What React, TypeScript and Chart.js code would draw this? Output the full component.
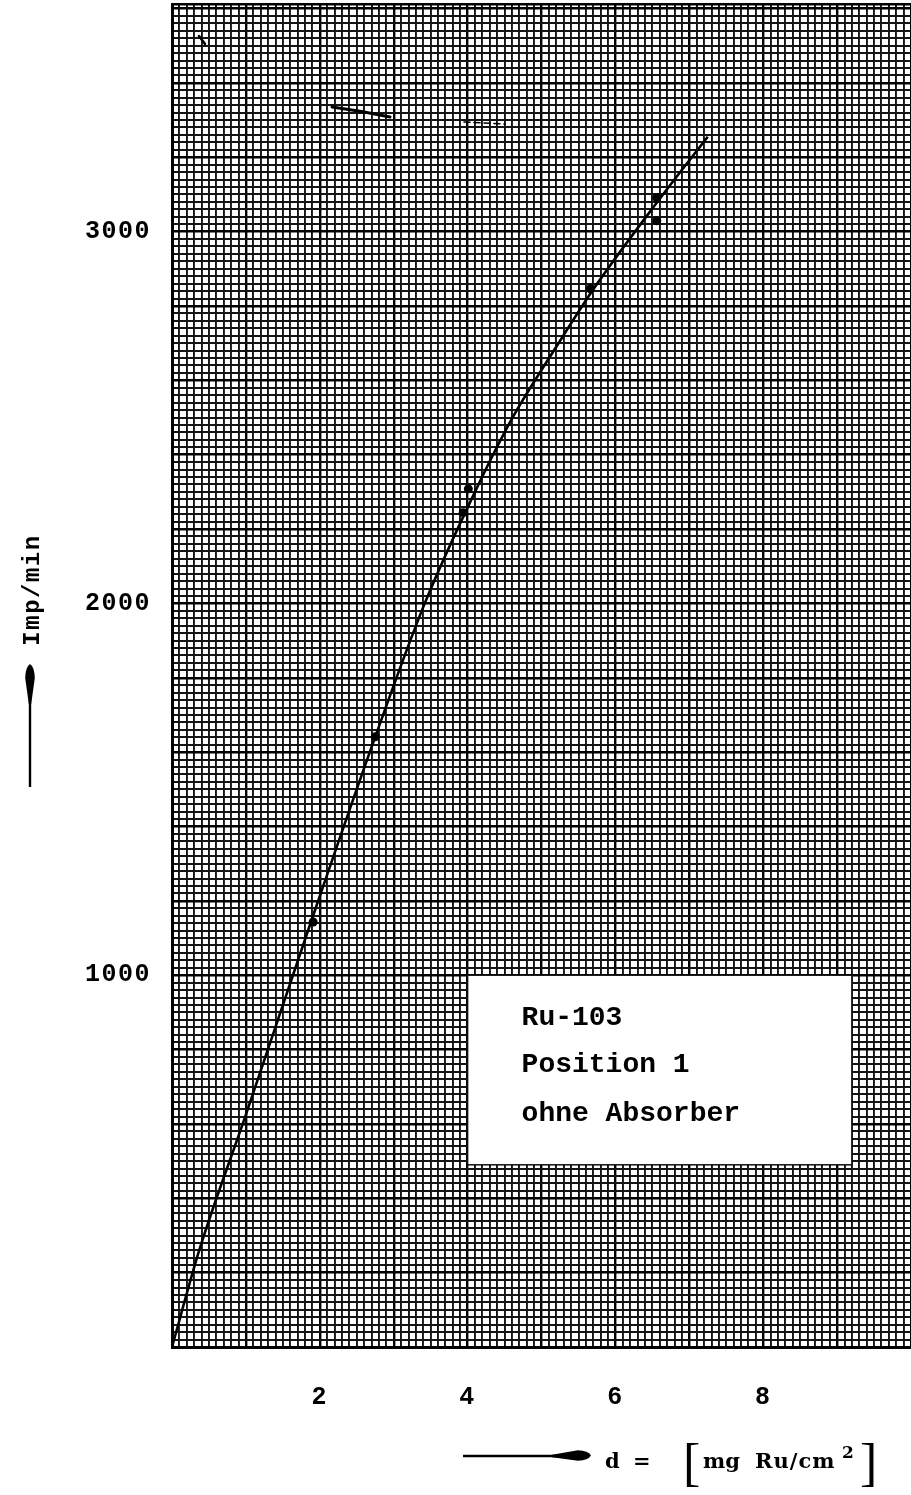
import { useEffect, useRef } from "react";
import { Chart, registerables } from "chart.js";

Chart.register(...registerables);

// Measured count rates (Imp/min) against layer thickness d (mg Ru/cm²)
const measuredD = [1.91, 2.75, 3.94, 4.01, 5.66, 6.56, 6.56];
const measuredRate = [1143, 1641, 2244, 2308, 2846, 3091, 3029];

// Hand-drawn fitted curve through the measurements
const curveD = [0, 0.37, 1.0, 1.88, 2.75, 3.42, 4.1, 4.61, 5.2, 5.72, 6.6, 7.25];
const curveRate = [0, 261, 625, 1143, 1641, 2000, 2300, 2500, 2690, 2850, 3088, 3255];

// Labelled ticks
const xTickLabels = [2, 4, 6, 8];
const yTickLabels = [1000, 2000, 3000];

// Text of the pasted-on label
const noteLines = ["Ru-103", "Position 1", "ohne Absorber"];
const yTitle = "Imp/min";

// Graph-paper ranges and ruling
const X_MIN = 0;
const X_MAX = 10;
const X_MINOR = 0.1;
const X_MAJOR = 1;
const Y_MIN = 0;
const Y_MAX = 3612;
const Y_MINOR = 20;
const Y_MAJOR = 200;

// Corners of the white label (data units)
const NOTE_X = [4.0, 9.2];
const NOTE_Y = [490, 1000];

const MONO = '"Liberation Mono", "DejaVu Sans Mono", monospace';
const SERIF = '"DejaVu Serif", "Liberation Serif", serif';

const xGrid: number[] = [];
for (let i = 0; i <= Math.round((X_MAX - X_MIN) / X_MINOR); i++) {
  xGrid.push(Math.round((X_MIN + i * X_MINOR) * 1000) / 1000);
}
const yGrid: number[] = [];
for (let v = Y_MIN; v <= Y_MAX; v += Y_MINOR) yGrid.push(v);
if (yGrid[yGrid.length - 1] !== Y_MAX) yGrid.push(Y_MAX);

const isMajorX = (v: number) => {
  const q = v / X_MAJOR;
  return Math.abs(q - Math.round(q)) < 1e-6;
};
const isMajorY = (v: number) => v % Y_MAJOR === 0 || v === Y_MAX;

function text(
  ctx: CanvasRenderingContext2D,
  s: string,
  x: number,
  y: number,
  font: string,
  align: CanvasTextAlign = "left",
  baseline: CanvasTextBaseline = "alphabetic",
  spacing = 0
) {
  ctx.save();
  (ctx as any).letterSpacing = `${spacing}px`;
  ctx.font = font;
  ctx.textAlign = align;
  ctx.textBaseline = baseline;
  ctx.fillStyle = "#000";
  ctx.fillText(s, x, y);
  ctx.restore();
}

// Typewriter spacing for the tick labels
const spacingPlugin = {
  id: "typewriterSpacing",
  beforeDraw(chart: any) {
    chart.ctx.letterSpacing = "1.5px";
  },
  afterDraw(chart: any) {
    chart.ctx.letterSpacing = "0px";
  },
};

// White label pasted over the ruling, plus a few stray pen strokes on the sheet
const notePlugin = {
  id: "note",
  beforeDatasetsDraw(chart: any) {
    const { ctx, scales, chartArea } = chart;
    const x0 = scales.x.getPixelForValue(NOTE_X[0]);
    const x1 = scales.x.getPixelForValue(NOTE_X[1]);
    const y0 = scales.y.getPixelForValue(NOTE_Y[1]);
    const y1 = scales.y.getPixelForValue(NOTE_Y[0]);
    ctx.save();
    ctx.fillStyle = "#fff";
    ctx.fillRect(x0, y0, x1 - x0, y1 - y0);
    ctx.strokeStyle = "#111";
    ctx.lineWidth = 1.5;
    ctx.strokeRect(x0, y0, x1 - x0, y1 - y0);

    // pen strokes near the top of the sheet
    const L = chartArea.left;
    const T = chartArea.top;
    ctx.strokeStyle = "#000";
    ctx.lineCap = "round";
    ctx.lineWidth = 2.6;
    ctx.beginPath();
    ctx.moveTo(L + 27, T + 32);
    ctx.lineTo(L + 33, T + 40);
    ctx.stroke();
    ctx.lineWidth = 3;
    ctx.beginPath();
    ctx.moveTo(L + 160, T + 103);
    ctx.quadraticCurveTo(L + 190, T + 107, L + 218, T + 113);
    ctx.stroke();
    ctx.lineWidth = 1.6;
    ctx.setLineDash([6, 4]);
    ctx.beginPath();
    ctx.moveTo(L + 292, T + 118);
    ctx.lineTo(L + 333, T + 120);
    ctx.stroke();
    ctx.restore();

    const font = `bold 28px ${MONO}`;
    const baselines = [50, 97, 146];
    noteLines.forEach((s, i) => text(ctx, s, x0 + 54, y0 + baselines[i], font));
  },
};

// Axis titles with hand-drawn arrows
const titlesPlugin = {
  id: "titles",
  afterDraw(chart: any) {
    const ctx: CanvasRenderingContext2D = chart.ctx;
    (ctx as any).letterSpacing = "0px";

    // vertical title
    ctx.save();
    ctx.translate(33, 590);
    ctx.rotate(-Math.PI / 2);
    text(ctx, yTitle, 0, 0, `bold 24px ${MONO}`, "center", "middle", 1.5);
    ctx.restore();

    ctx.save();
    ctx.fillStyle = "#000";
    ctx.strokeStyle = "#000";
    // upward arrow
    ctx.lineWidth = 2.4;
    ctx.beginPath();
    ctx.moveTo(30, 787);
    ctx.lineTo(30, 695);
    ctx.stroke();
    ctx.beginPath();
    ctx.moveTo(30, 664);
    ctx.quadraticCurveTo(34.5, 667, 34.8, 678);
    ctx.lineTo(31.2, 704);
    ctx.lineTo(28.8, 704);
    ctx.lineTo(25.2, 678);
    ctx.quadraticCurveTo(25.5, 667, 30, 664);
    ctx.fill();

    // rightward arrow
    ctx.beginPath();
    ctx.moveTo(463, 1456);
    ctx.lineTo(560, 1456);
    ctx.stroke();
    ctx.beginPath();
    ctx.moveTo(591, 1455.5);
    ctx.quadraticCurveTo(588, 1460.5, 578, 1460.8);
    ctx.lineTo(552, 1457.2);
    ctx.lineTo(552, 1454.8);
    ctx.lineTo(578, 1450.2);
    ctx.quadraticCurveTo(588, 1450.5, 591, 1455.5);
    ctx.fill();
    ctx.restore();

    // unit label
    const f = `bold 21px ${SERIF}`;
    text(ctx, "d", 605, 1468, f);
    text(ctx, "=", 633, 1468, f);
    text(ctx, "[", 683, 1480, `52px "Liberation Serif", serif`);
    text(ctx, "mg", 703, 1468, f);
    text(ctx, "Ru/cm", 755, 1468, f, "left", "alphabetic", 1);
    text(ctx, "2", 842, 1458, `bold 17px ${SERIF}`);
    text(ctx, "]", 860, 1480, `52px "Liberation Serif", serif`);
  },
};

export default function App() {
  const ref = useRef<HTMLCanvasElement | null>(null);

  useEffect(() => {
    document.body.style.margin = "0";
    const canvas = ref.current;
    if (!canvas) return;

    const tickFont = { family: MONO, size: 25, weight: "bold", lineHeight: 0.2 };

    const chart = new Chart(canvas, {
      type: "scatter",
      data: {
        datasets: [
          {
            label: "Messwerte",
            data: measuredD.map((x, i) => ({ x, y: measuredRate[i] })),
            pointRadius: 4.5,
            pointHoverRadius: 4.5,
            pointBackgroundColor: "#000",
            pointBorderColor: "#000",
            pointBorderWidth: 0,
            showLine: false,
            order: 0,
          },
          {
            label: "Kurve",
            data: curveD.map((x, i) => ({ x, y: curveRate[i] })),
            showLine: true,
            borderColor: "#000",
            borderWidth: 2.6,
            pointRadius: 0,
            pointHoverRadius: 0,
            cubicInterpolationMode: "monotone",
            fill: false,
            order: 1,
          },
        ],
      },
      options: {
        animation: false,
        responsive: true,
        maintainAspectRatio: false,
        events: [],
        layout: { autoPadding: false, padding: { top: 4, left: 0, right: 0, bottom: 0 } },
        plugins: {
          legend: { display: false },
          tooltip: { enabled: false },
        },
        scales: {
          x: {
            type: "linear",
            min: X_MIN,
            max: X_MAX,
            afterFit: (s: any) => {
              s.height = 148;
              s.paddingLeft = 0;
              s.paddingRight = 0;
            },
            afterBuildTicks: (s: any) => {
              s.ticks = xGrid.map((value) => ({ value }));
            },
            grid: {
              drawTicks: true,
              tickLength: 48,
              tickColor: "rgba(0,0,0,0)",
              color: (c: any) => (isMajorX(c.tick?.value ?? 0) ? "#000" : "#141414"),
              lineWidth: (c: any) => (isMajorX(c.tick?.value ?? 0) ? 2.4 : 1.9),
            },
            border: { display: true, color: "#000", width: 3 },
            ticks: {
              autoSkip: false,
              maxRotation: 0,
              minRotation: 0,
              padding: 0,
              color: "#000",
              font: tickFont,
              callback: (v: any) => {
                const hit = xTickLabels.find((l) => Math.abs(l - Number(v)) < 1e-6);
                return hit !== undefined ? String(hit) : "";
              },
            },
          },
          y: {
            type: "linear",
            min: Y_MIN,
            max: Y_MAX,
            afterFit: (s: any) => {
              s.width = 172;
              s.paddingTop = 0;
              s.paddingBottom = 0;
            },
            afterBuildTicks: (s: any) => {
              s.ticks = yGrid.map((value) => ({ value }));
            },
            grid: {
              drawTicks: true,
              tickLength: 21,
              tickColor: "rgba(0,0,0,0)",
              color: (c: any) => (isMajorY(c.tick?.value ?? 0) ? "#000" : "#141414"),
              lineWidth: (c: any) => (isMajorY(c.tick?.value ?? 0) ? 2.4 : 1.9),
            },
            border: { display: true, color: "#000", width: 3 },
            ticks: {
              autoSkip: false,
              padding: 0,
              color: "#000",
              font: tickFont,
              callback: (v: any) => (yTickLabels.includes(Number(v)) ? String(v) : ""),
            },
          },
        },
      } as any,
      plugins: [spacingPlugin, notePlugin, titlesPlugin],
    });

    return () => chart.destroy();
  }, []);

  return (
    <div style={{ position: "relative", width: 911, height: 1495, background: "#fff" }}>
      <canvas ref={ref} />
    </div>
  );
}
